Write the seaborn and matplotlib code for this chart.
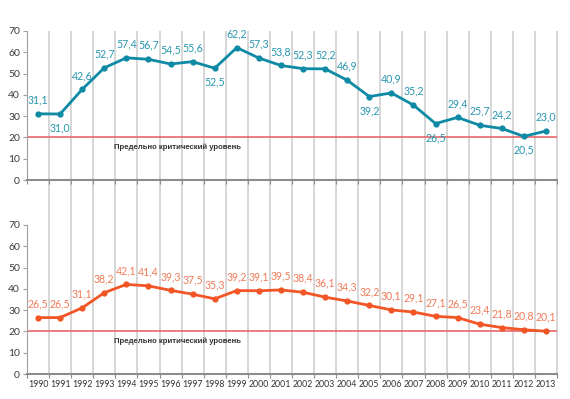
import matplotlib.pyplot as plt
import seaborn as sns
import pandas as pd
import numpy as np
from matplotlib import font_manager

years = list(range(1990, 2014))
top_values = [31.1, 31.0, 42.6, 52.7, 57.4, 56.7, 54.5, 55.6, 52.5, 62.2, 57.3, 53.8,
              52.3, 52.2, 46.9, 39.2, 40.9, 35.2, 26.5, 29.4, 25.7, 24.2, 20.5, 23.0]
bottom_values = [26.5, 26.5, 31.1, 38.2, 42.1, 41.4, 39.3, 37.5, 35.3, 39.2, 39.1, 39.5,
                 38.4, 36.1, 34.3, 32.2, 30.1, 29.1, 27.1, 26.5, 23.4, 21.8, 20.8, 20.1]
# labels drawn under the point in the top panel
top_below = [1991, 1998, 2005, 2008, 2012]
critical_level = 20
critical_text = "Предельно критический уровень"
yticks = [0, 10, 20, 30, 40, 50, 60, 70]

sns.set_style("white")
plt.rcParams['font.family'] = ['Lato', 'DejaVu Sans']

installed = {f.name for f in font_manager.fontManager.ttflist}
narrow = "Liberation Sans Narrow" if "Liberation Sans Narrow" in installed else "Liberation Sans"

TEAL = "#0e8aa5"
TEAL_LBL = "#2596ae"
ORANGE = "#f25526"
ORANGE_LBL = "#f07a58"
CRIT = "#e8666a"
SEP = "#d6d6d6"

df = pd.DataFrame({"year": years, "idx": np.arange(len(years)),
                   "top": top_values, "bottom": bottom_values})

fig = plt.figure(figsize=(5.7, 3.99), dpi=100)
W, H = 570, 399
left, right = 27 / W, 557 / W

def px_rect(top_px, bot_px):
    return [left, 1 - bot_px / H, right - left, (bot_px - top_px) / H]

ax1 = fig.add_axes(px_rect(31, 180))
ax2 = fig.add_axes(px_rect(225, 374))
gap = (225 - 180) / 149 * 70  # gap between panels in data units


def draw_panel(ax, col, color, lbl_color, below, sep_bottom):
    seps = np.arange(0.5, len(years) + 0.5, 1.0)
    ax.vlines(seps, sep_bottom, 70, color=SEP, lw=1.4, zorder=0, clip_on=False)
    sns.lineplot(data=df, x="idx", y=col, ax=ax, color=color, lw=2,
                 marker="o", markersize=4.5, markeredgewidth=0, zorder=3)
    ax.axhline(critical_level, color=CRIT, lw=1.2, zorder=2)
    for i, (yr, v) in enumerate(zip(df["year"], df[col])):
        off = -10 if yr in below else 10
        ax.annotate(f"{v:.1f}".replace(".", ","), (i, v), xytext=(0, off),
                    textcoords="offset points", ha="center", va="center",
                    color=lbl_color, fontsize=7.6, zorder=4)
    ax.text(6.3, 15.5, critical_text, ha="center", va="center", fontsize=5.6,
            fontweight="bold", color="#333333", family=[narrow, "DejaVu Sans"])
    ax.set_xlim(-0.5, len(years) - 0.5)
    ax.set_ylim(0, 70)
    ax.set_yticks(yticks)
    ax.set_ylabel("")
    ax.set_xlabel("")
    ax.set_xticks(np.arange(-0.5, len(years), 1.0))
    ax.set_xticklabels([])
    ax.set_xticks(df["idx"], minor=True)
    for s in ["top", "right"]:
        ax.spines[s].set_visible(False)
    ax.spines["left"].set_color("#a0a0a0")
    ax.spines["bottom"].set_color("#8c8c8c")
    ax.spines["bottom"].set_linewidth(1.5)
    ax.tick_params(axis="y", length=3, color="#a0a0a0", labelsize=7.5,
                   labelcolor="#3a3a3a", pad=2, left=True)
    ax.tick_params(axis="x", which="major", length=3, color="#8c8c8c", bottom=True)
    ax.tick_params(axis="x", which="minor", length=0, labelsize=6.3,
                   labelcolor="#333333", pad=4)


draw_panel(ax1, "top", TEAL, TEAL_LBL, top_below, -gap)
draw_panel(ax2, "bottom", ORANGE, ORANGE_LBL, [], 0)
ax2.set_xticklabels([str(y) for y in years], minor=True)

fig.savefig("out.png", dpi=100)
